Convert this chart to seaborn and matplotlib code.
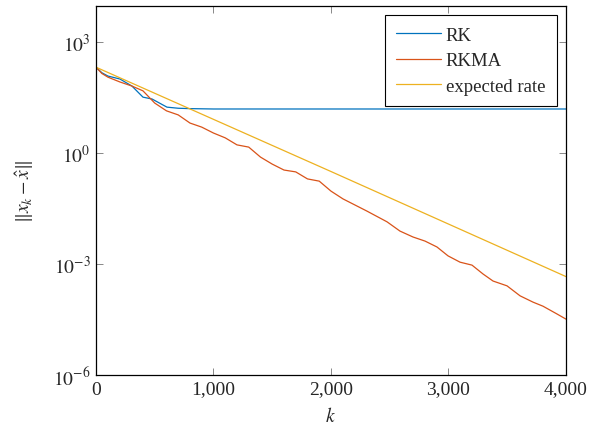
import numpy as np
import pandas as pd
import matplotlib
matplotlib.use("Agg")
import matplotlib.pyplot as plt
import seaborn as sns

# values (log10 of the error norm)
rk_k = [0, 50, 102, 204, 306, 400, 477, 604, 700, 800, 1000, 1500, 2000, 3000, 4000]
rk_log10 = [2.32, 2.17, 2.08, 2.00, 1.81, 1.51, 1.46, 1.24, 1.21, 1.20, 1.19, 1.19, 1.19, 1.19, 1.19]

rkma_k = [0, 50, 102, 204, 306, 400, 500, 600, 700, 800, 900, 1000, 1100, 1200, 1300,
          1400, 1500, 1600, 1700, 1800, 1900, 2000, 2102, 2306, 2477, 2587, 2698, 2800,
          2902, 2996, 3098, 3200, 3294, 3379, 3498, 3609, 3719, 3804, 3923, 4000]
rkma_log10 = [2.32, 2.15, 2.05, 1.92, 1.81, 1.68, 1.35, 1.14, 1.03, 0.81, 0.70, 0.54, 0.41,
              0.22, 0.16, -0.11, -0.30, -0.46, -0.51, -0.70, -0.76, -1.03, -1.24, -1.57,
              -1.86, -2.11, -2.27, -2.38, -2.54, -2.78, -2.95, -3.03, -3.27, -3.46, -3.59,
              -3.86, -4.03, -4.14, -4.35, -4.49]

rate_k = [0, 2000, 4000]
rate_log10 = [2.32, -0.50, -3.34]

LABELS = ["RK", "RKMA", "expected rate"]
COLORS = ["#0072BD", "#D95319", "#EDB120"]

df = pd.concat([
    pd.DataFrame({"k": rk_k, "err": np.power(10.0, rk_log10), "method": LABELS[0]}),
    pd.DataFrame({"k": rkma_k, "err": np.power(10.0, rkma_log10), "method": LABELS[1]}),
    pd.DataFrame({"k": rate_k, "err": np.power(10.0, rate_log10), "method": LABELS[2]}),
], ignore_index=True)

sns.set_theme(style="ticks")
plt.rcParams["font.family"] = ["Liberation Serif", "DejaVu Serif"]
plt.rcParams["mathtext.fontset"] = "stix"

fig = plt.figure(figsize=(5.91, 4.39), dpi=100)
ax = fig.add_axes([0.1624, 0.1435, 0.7953, 0.8405])

sns.lineplot(data=df, x="k", y="err", hue="method", hue_order=LABELS,
             palette=dict(zip(LABELS, COLORS)), linewidth=0.9, sort=False,
             estimator=None, ax=ax)

ax.set_yscale("log")
ax.set_xlim(0, 4000)
ax.set_ylim(1e-6, 9.4e3)
ax.set_xticks([0, 1000, 2000, 3000, 4000])
ax.set_xticklabels(["0", "1,000", "2,000", "3,000", "4,000"])
ax.set_yticks([1e-6, 1e-3, 1e0, 1e3])
ax.set_yticklabels([r"$10^{-6}$", r"$10^{-3}$", r"$10^{0}$", r"$10^{3}$"])
ax.yaxis.set_minor_locator(matplotlib.ticker.NullLocator())

ax.tick_params(which="major", direction="in", length=5, width=0.7, color="#888888",
               top=True, right=True, labelsize=14, pad=4)
for sp in ax.spines.values():
    sp.set_visible(True)
    sp.set_color("black")
    sp.set_linewidth(0.9)

ax.set_xlabel(r"$k$", fontsize=14, labelpad=6)
ax.set_ylabel(r"$\|x_k - \hat{x}\|$", fontsize=14, labelpad=12)

leg = ax.legend(loc="upper right", fontsize=13.5, frameon=True, fancybox=False,
                edgecolor="black", framealpha=1, handlelength=2.4, handletextpad=0.25,
                labelspacing=0.45, borderaxespad=0.5, borderpad=0.6)
leg.get_frame().set_linewidth(0.8)

fig.savefig("out.png", dpi=100)
